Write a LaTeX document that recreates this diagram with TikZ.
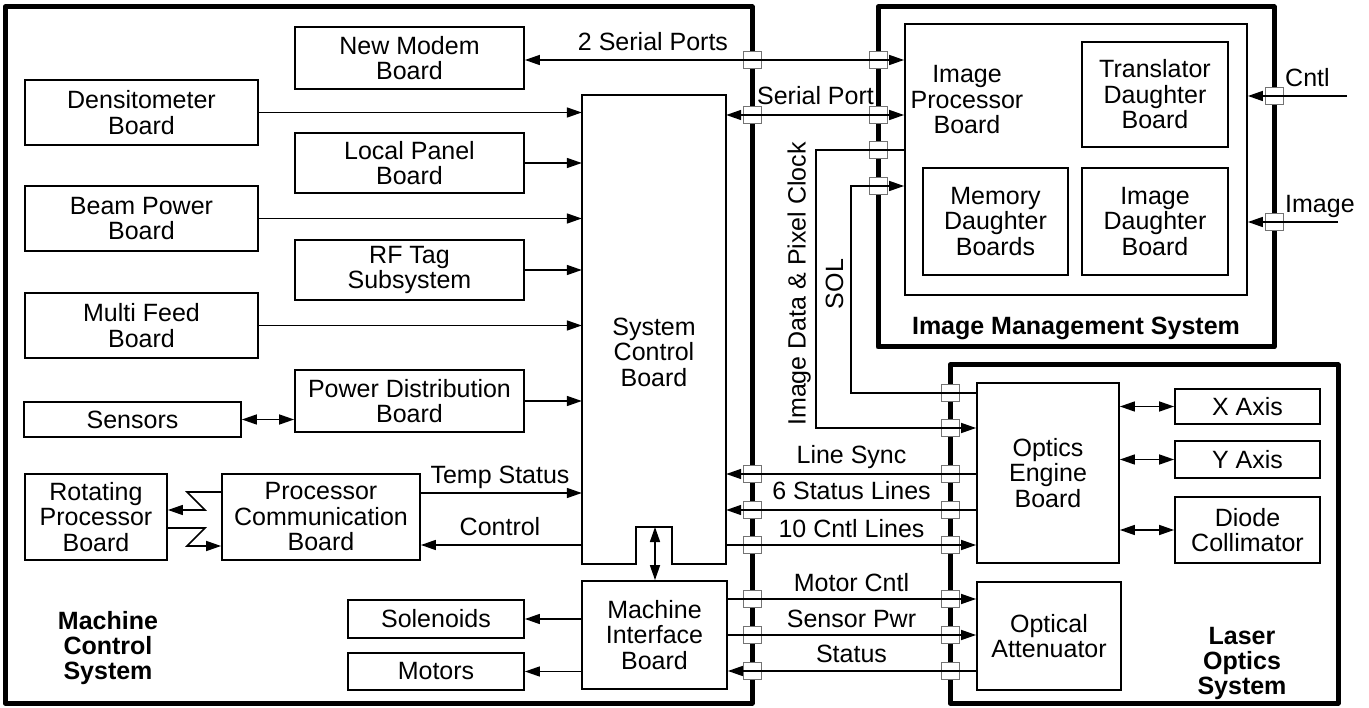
\documentclass[tikz,border=0pt]{standalone}
\usepackage{fontspec}
\setmainfont{Liberation Sans}
\usetikzlibrary{arrows.meta}
\begin{document}
\begin{tikzpicture}[x=1pt,y=-1pt,
  txt/.style={font=\fontsize{25}{25.5}\selectfont, align=center, inner sep=0pt},
  bold/.style={font=\fontsize{25}{25}\selectfont\bfseries, align=center, inner sep=0pt},
  box/.style={draw, line width=1.8pt, txt},
  sys/.style={draw, line width=5pt, line join=round, inner sep=0pt},
  port/.style={draw=black!55, fill=white, line width=1pt, minimum width=18pt, minimum height=17pt, inner sep=0pt},
  conn/.style={line width=1.6pt},
  tip/.style={conn,-{Triangle[length=15pt,width=10pt]}},
  dbl/.style={conn,{Triangle[length=15pt,width=10pt]}-{Triangle[length=15pt,width=10pt]}},
  lab/.style={txt, anchor=base}
]
\useasboundingbox (0,0) rectangle (1369,708);

% system enclosures
\node[sys, minimum width=747pt, minimum height=696pt] (mcs) at (378.5,355) {};
\node[sys, minimum width=396pt, minimum height=340pt] (ims) at (1076,177) {};
\node[sys, minimum width=388pt, minimum height=338pt] (los) at (1144,534) {};

% ports
\foreach \y in {60,115,474,510,545,599,635,671} \node[port] (pm\y) at (752,\y) {};
\foreach \y in {60,115,150,186} \node[port] (pi\y) at (878,\y) {};
\foreach \y in {393,428,474,510,545,599,635,671} \node[port] (pl\y) at (950,\y) {};
\foreach \y in {96,222} \node[port] (pr\y) at (1274,\y) {};

% machine control boards
\node[box, minimum width=229pt, minimum height=62pt] (nmb) at (409.5,58) {New Modem\\Board};
\node[box, minimum width=233pt, minimum height=65pt] (dens) at (141.5,112.5) {Densitometer\\Board};
\node[box, minimum width=229pt, minimum height=60pt] (lpb) at (409.5,163) {Local Panel\\Board};
\node[box, minimum width=233pt, minimum height=65pt] (bpb) at (141.5,218.5) {Beam Power\\Board};
\node[box, minimum width=229pt, minimum height=60pt] (rft) at (409.5,270) {RF Tag\\Subsystem};
\node[box, minimum width=233pt, minimum height=65pt] (mfb) at (141.5,325.5) {Multi Feed\\Board};
\node[box, minimum width=229pt, minimum height=62pt] (pdb) at (409.5,401) {Power Distribution\\Board};
\node[box, minimum width=217pt, minimum height=35pt] (sens) at (132.5,419.5) {Sensors};
\node[box, minimum width=142pt, minimum height=86pt] (rpb) at (96,517) {Rotating\\Processor\\Board};
\node[box, minimum width=198pt, minimum height=86pt] (pcb) at (321,517) {Processor\\Communication\\Board};
\node[inner sep=0pt, minimum width=144pt, minimum height=469pt] (scb) at (654,329.5) {};
\draw[line width=1.8pt] (582,95) -- (726,95) -- (726,564) -- (672,564) -- (672,527)
  -- (636,527) -- (636,564) -- (582,564) -- cycle;
\node[txt] (scbt) at (654,352) {System\\Control\\Board};
\node[box, minimum width=145pt, minimum height=108pt] (mib) at (654.5,635) {Machine\\Interface\\Board};
\node[box, minimum width=176pt, minimum height=38pt] (sol) at (436,619) {Solenoids};
\node[box, minimum width=176pt, minimum height=37pt] (mot) at (436,671.5) {Motors};

% image management boards
\node[box, minimum width=342pt, minimum height=271pt] (ipb) at (1076,159.5) {};
\node[txt] (ipbt) at (967,100) {Image\\Processor\\Board};
\node[box, minimum width=146pt, minimum height=105pt] (tdb) at (1155,94.5) {Translator\\Daughter\\Board};
\node[box, minimum width=145pt, minimum height=107pt] (mdb) at (995.5,221.5) {Memory\\Daughter\\Boards};
\node[box, minimum width=146pt, minimum height=107pt] (idb) at (1155,221.5) {Image\\Daughter\\Board};

% laser optics boards
\node[box, minimum width=142pt, minimum height=180pt] (oeb) at (1048,473) {Optics\\Engine\\Board};
\node[box, minimum width=144pt, minimum height=108pt] (oa) at (1049,636) {Optical\\Attenuator};
\node[box, minimum width=145pt, minimum height=35pt] (xax) at (1247.5,406.5) {X Axis};
\node[box, minimum width=145pt, minimum height=37pt] (yax) at (1247.5,459.5) {Y Axis};
\node[box, minimum width=145pt, minimum height=66pt] (dc) at (1247.5,530) {Diode\\Collimator};

% levels
\coordinate (yA) at (0,60);
\coordinate (yB) at (0,115);
\coordinate (yC) at (0,150);
\coordinate (yD) at (0,186);
\coordinate (yE) at (0,393);
\coordinate (yF) at (0,428);
\coordinate (yTS) at (0,493);
\coordinate (yLS) at (0,474);
\coordinate (yST) at (0,510);
\coordinate (yCL) at (0,545);
\coordinate (yMC) at (0,599);
\coordinate (ySP) at (0,635);
\coordinate (ySt) at (0,671);
\coordinate (xID) at (816,0);
\coordinate (xSOL) at (851,0);
\coordinate (notch) at (655,527);
\coordinate (cntlend) at (1347,96);
\coordinate (imgend) at (1338,222);
\coordinate (za) at (187,492);
\coordinate (zb) at (205,510);
\coordinate (zc) at (205,528);
\coordinate (zd) at (187,546);

% connectors
\draw[dbl] (nmb.east |- yA) -- (ipb.west |- yA);
\draw[dbl] (scb.east |- yB) -- (ipb.west |- yB);
\draw[tip] (ipb.west |- yC) -- (xID |- yC) -- (xID |- yF) -- (oeb.west |- yF);
\draw[tip] (oeb.west |- yE) -- (xSOL |- yE) -- (xSOL |- yD) -- (ipb.west |- yD);
\draw[tip] (dens.east) -- (dens.east -| scb.west);
\draw[tip] (lpb.east) -- (lpb.east -| scb.west);
\draw[tip] (bpb.east) -- (bpb.east -| scb.west);
\draw[tip] (rft.east) -- (rft.east -| scb.west);
\draw[tip] (mfb.east) -- (mfb.east -| scb.west);
\draw[tip] (pdb.east) -- (pdb.east -| scb.west);
\draw[dbl] (sens.east) -- (sens.east -| pdb.west);
\draw[tip] (pcb.west |- za) -- (za) -- (zb) -- (rpb.east |- zb);
\draw[tip] (rpb.east |- zc) -- (zc) -- (zd) -- (pcb.west |- zd);
\draw[tip] (pcb.east |- yTS) -- (scb.west |- yTS);
\draw[tip] (scb.west |- yCL) -- (pcb.east |- yCL);
\draw[dbl] (notch) -- (notch |- mib.north);
\draw[tip] (oeb.west |- yLS) -- (scb.east |- yLS);
\draw[tip] (oeb.west |- yST) -- (scb.east |- yST);
\draw[tip] (scb.east |- yCL) -- (oeb.west |- yCL);
\draw[tip] (mib.east |- yMC) -- (oa.west |- yMC);
\draw[tip] (mib.east |- ySP) -- (oa.west |- ySP);
\draw[tip] (oa.west |- ySt) -- (mib.east |- ySt);
\draw[tip] (mib.west |- sol.east) -- (sol.east);
\draw[tip] (mib.west |- mot.east) -- (mot.east);
\draw[dbl] (oeb.east |- xax.west) -- (xax.west);
\draw[dbl] (oeb.east |- yax.west) -- (yax.west);
\draw[dbl] (oeb.east |- dc.west) -- (dc.west);
\draw[tip] (cntlend) -- (ipb.east |- cntlend);
\draw[tip] (imgend) -- (ipb.east |- imgend);

% labels
\node[lab] (l1) at (653,51) {2 Serial Ports};
\node[lab] (l2) at (815.5,105) {Serial Port};
\node[lab] (l3) at (500,484) {Temp Status};
\node[lab] (l4) at (500,536) {Control};
\node[lab] (l5) at (851.5,464) {Line Sync};
\node[lab] (l6) at (851.5,500) {6 Status Lines};
\node[lab] (l7) at (851.5,537) {10 Cntl Lines};
\node[lab] (l8) at (851.5,591) {Motor Cntl};
\node[lab] (l9) at (851.5,627) {Sensor Pwr};
\node[lab] (l10) at (851.5,662) {Status};
\node[lab, anchor=base west] (l11) at (1285,87) {Cntl};
\node[lab, anchor=base west] (l12) at (1285,213) {Image};
\node[lab, rotate=90] (l13) at (805.5,284) {Image Data \& Pixel Clock};
\node[lab, rotate=90] (l14) at (843,284) {SOL};
\node[bold] (s1) at (108,648) {Machine\\Control\\System};
\node[bold, anchor=base] (s2) at (1076,335) {Image Management System};
\node[bold] (s3) at (1242,663) {Laser\\Optics\\System};
\end{tikzpicture}
\end{document}
